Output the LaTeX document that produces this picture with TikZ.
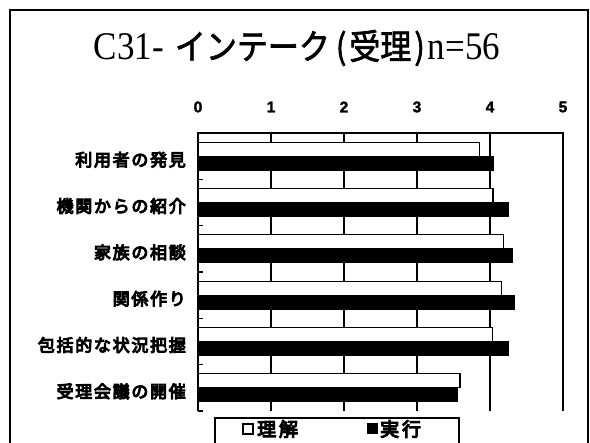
\documentclass[tikz,border=0pt]{standalone}
\usepackage{fontspec}
\usepackage{graphicx}
\setmainfont{Liberation Serif}
\newfontfamily\jp{Noto Sans CJK JP}[FakeBold=2]
\newfontfamily\jplab{Noto Sans CJK JP}[LetterSpace=10, FakeBold=6]
\newfontfamily\jpleg{Noto Sans CJK JP}[LetterSpace=15, FakeBold=6]
\newfontfamily\numfont{Liberation Sans Bold}[FakeBold=2]
\tikzset{
  frameline/.style={line width=2pt},
  axisline/.style={line width=1.3pt},
  gridline/.style={line width=1.3pt},
  wbar/.style={draw=black, fill=white, line width=1.2pt},
  bbar/.style={draw=black, fill=black, line width=1.2pt},
  lab/.style={anchor=east, inner sep=0pt, font=\jplab\fontsize{17}{17}\selectfont},
  ticklab/.style={inner sep=0pt, font=\numfont\fontsize{15.5}{15.5}\selectfont},
  legtext/.style={anchor=west, inner sep=0pt, font=\jpleg\fontsize{19}{19}\selectfont},
}
\begin{document}
\begin{tikzpicture}[x=1pt,y=-1pt]
\useasboundingbox (0,0) rectangle (590,443);
\fill[white] (0,0) rectangle (590,443);
% outer frame
\draw[frameline] (10,452) -- (10,10) -- (588,10) -- (588,452);
% title
\node[inner sep=0pt] (title) at (297,48) {\scalebox{1}[1.12]{\fontsize{35}{35}\selectfont C31-\hspace{11pt}{\jp\fontsize{31}{31}\selectfont インテーク\hspace{6pt}(\hspace{3pt}受理\hspace{3pt})\hspace{3pt}}n=56}};
% tick labels
\foreach \k in {0,...,5} {
  \node[ticklab] (t\k) at ({198+\k*73},107) {\k};
}
% plot area
\foreach \k in {1,...,4} {
  \draw[gridline] ({198+\k*73},133) -- ({198+\k*73},411);
}
\draw[axisline] (198,411) -- (198,133) -- (563,133) -- (563,411);
\foreach \k in {1,...,6} {
  \draw[axisline] (198,{133+\k*46.33}) -- (203,{133+\k*46.33});
}
% bars and labels
\foreach \i/\w/\b/\t in {0/3.86/4.05/利用者の発見,1/4.04/4.25/機関からの紹介,2/4.18/4.30/家族の相談,3/4.16/4.33/関係作り,4/4.03/4.25/包括的な状況把握,5/3.59/3.55/受理会議の開催} {
  \pgfmathsetmacro\c{156.2+\i*46.33}
  \draw[wbar] (198,{\c-14}) rectangle ({198+\w*73},\c);
  \draw[bbar] (198,\c) rectangle ({198+\b*73},{\c+14});
  \node[lab] (l\i) at (186,{\c+3.5}) {\t};
}
% legend
\draw[axisline] (215,450) -- (215,418) -- (459,418) -- (459,450);
\node[draw=black, fill=white, line width=1.5pt, minimum size=10pt, inner sep=0pt] (lw) at (248,429) {};
\node[legtext] (ltw) at (257,429) {理解};
\node[draw=black, fill=black, line width=1pt, minimum size=10pt, inner sep=0pt] (lb) at (372,429) {};
\node[legtext] (ltb) at (380,429) {実行};
\end{tikzpicture}
\end{document}
